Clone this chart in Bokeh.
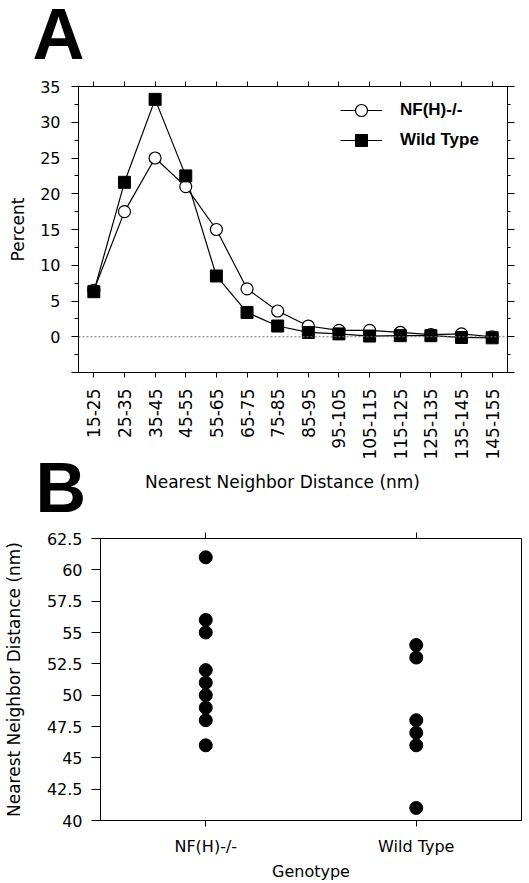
import math
from bokeh.plotting import figure
from bokeh.models import (FactorRange, Range1d, FixedTicker, LinearAxis, CategoricalAxis,
                          Span, Legend, LegendItem, CustomJSTickFormatter)
from bokeh.core.properties import value
from bokeh.embed import file_html
from bokeh.resources import INLINE

# ---------------- data ----------------
bins = ["15-25", "25-35", "35-45", "45-55", "55-65", "65-75", "75-85", "85-95",
        "95-105", "105-115", "115-125", "125-135", "135-145", "145-155"]
nfh_pct = [6.5, 17.5, 25.0, 21.0, 15.0, 6.7, 3.6, 1.5, 0.9, 0.9, 0.6, 0.3, 0.4, 0.0]
wt_pct = [6.3, 21.6, 33.2, 22.5, 8.5, 3.4, 1.5, 0.6, 0.4, 0.1, 0.15, 0.15, -0.1, -0.15]
series_names = ["NF(H)-/-", "Wild Type"]

genotypes = ["NF(H)-/-", "Wild Type"]
nfh_dist = [61, 56, 55, 52, 51, 50, 49, 48, 46]
wt_dist = [54, 53, 48, 47, 46, 41]

a_major = [-5, 0, 5, 10, 15, 20, 25, 30, 35]
a_minor = [-2.5, 2.5, 7.5, 12.5, 17.5, 22.5, 27.5, 32.5]
b_ticks = [40, 42.5, 45, 47.5, 50, 52.5, 55, 57.5, 60, 62.5]

panel_letters = ["A", "B"]
a_xlabel = "Nearest Neighbor Distance (nm)"

TICK_FONT = "DejaVu Sans"
LABEL_FONT = "DejaVu Sans"
BOLD_FONT = "Liberation Sans"
W = 529


def style_axis(ax, tick_size="16px"):
    ax.axis_line_color = "black"
    ax.major_tick_line_color = "black"
    ax.minor_tick_line_color = "black"
    ax.major_tick_in = 0
    ax.minor_tick_in = 0
    ax.major_label_text_font = TICK_FONT
    ax.major_label_text_font_size = tick_size
    ax.major_label_text_color = "black"
    ax.axis_label_text_font = LABEL_FONT
    ax.axis_label_text_font_style = "normal"
    ax.axis_label_text_color = "black"


def plain(fig):
    fig.xgrid.grid_line_color = None
    fig.ygrid.grid_line_color = None
    fig.outline_line_color = "black"
    fig.background_fill_color = "white"
    fig.border_fill_color = "white"


def band(height):
    f = figure(width=W, height=height, x_range=Range1d(0, W), y_range=Range1d(0, height),
               x_axis_type=None, y_axis_type=None, output_backend="svg", title=None,
               toolbar_location=None, min_border=0)
    f.outline_line_color = None
    f.background_fill_color = "white"
    f.border_fill_color = "white"
    return f


# ---------------- header with letter A ----------------
hA = band(70)
hA.text(x=[32], y=[36.5], text=[panel_letters[0]], text_font=value(BOLD_FONT),
        text_font_style="bold", text_font_size="72px", text_baseline="middle",
        text_align="left", text_color="black")

# ---------------- panel A ----------------
pA = figure(width=W, height=392, x_range=FactorRange(*bins), y_range=Range1d(-5, 35),
            output_backend="svg", toolbar_location=None, title=None,
            min_border_left=78, min_border_right=22, min_border_top=16, min_border_bottom=89)
plain(pA)

ya = pA.yaxis[0]
ya.ticker = FixedTicker(ticks=a_major, minor_ticks=a_minor)
ya.major_label_overrides = {-5: ""}
style_axis(ya, "16px")
ya.major_tick_out = 7
ya.minor_tick_out = 4
ya.major_label_standoff = 11
ya.axis_label = "Percent"
ya.axis_label_text_font_size = "17px"
ya.axis_label_standoff = 9

ra = LinearAxis(ticker=FixedTicker(ticks=a_major, minor_ticks=a_minor))
style_axis(ra)
ra.major_label_overrides = {t: "" for t in a_major}
ra.major_tick_out = 7
ra.minor_tick_out = 3
ra.major_label_standoff = 0
pA.add_layout(ra, "right")

xa = pA.xaxis[0]
style_axis(xa, "17px")
xa.major_label_orientation = math.pi / 2
xa.major_tick_out = 5
xa.major_label_standoff = 11

ta = CategoricalAxis(formatter=CustomJSTickFormatter(code="return ''"))
style_axis(ta)
ta.major_tick_out = 5
ta.major_label_standoff = 0
pA.add_layout(ta, "above")

pA.add_layout(Span(location=0, dimension="width", line_color="#777777",
                   line_dash="2 2", line_width=1))

l1 = pA.line(bins, nfh_pct, line_color="black", line_width=1.2)
l2 = pA.line(bins, wt_pct, line_color="black", line_width=1.2)
s1 = pA.scatter(bins, nfh_pct, marker="circle", size=12, fill_color="white",
                line_color="black", line_width=1.2)
s2 = pA.scatter(bins, wt_pct, marker="square", size=12, fill_color="black",
                line_color="black")

legend = Legend(items=[LegendItem(label=series_names[0], renderers=[l1, s1]),
                       LegendItem(label=series_names[1], renderers=[l2, s2])],
                location=(262, 217), glyph_width=42, glyph_height=30,
                label_standoff=18, spacing=0, padding=0, margin=0,
                border_line_color=None, background_fill_alpha=0,
                label_text_font=BOLD_FONT, label_text_font_style="bold",
                label_text_font_size="17px", label_text_color="black")
pA.add_layout(legend)

# ---------------- band: letter B + x title of panel A ----------------
mid = band(53)
mid.text(x=[35], y=[28], text=[panel_letters[1]], text_font=value(BOLD_FONT),
         text_font_style="bold", text_font_size="70px", text_baseline="middle",
         text_align="left", text_color="black")
mid.text(x=[282], y=[34], text=[a_xlabel], text_font=value(LABEL_FONT),
         text_font_size="17px", text_baseline="middle", text_align="center",
         text_color="black")

# ---------------- panel B ----------------
pB = figure(width=W, height=368, x_range=FactorRange(*genotypes), y_range=Range1d(40, 62.5),
            output_backend="svg", toolbar_location=None, title=None,
            min_border_left=96, min_border_right=8, min_border_top=23, min_border_bottom=58)
plain(pB)

yb = pB.yaxis[0]
yb.ticker = FixedTicker(ticks=b_ticks, minor_ticks=[])
yb.formatter = CustomJSTickFormatter(code="return String(tick)")
style_axis(yb, "16px")
yb.major_tick_out = 9
yb.minor_tick_out = 0
yb.major_label_standoff = 9
yb.axis_label = "Nearest Neighbor Distance (nm)"
yb.axis_label_text_font_size = "17px"
yb.axis_label_standoff = 20

xb = pB.xaxis[0]
style_axis(xb, "16px")
xb.major_tick_out = 6
xb.major_label_standoff = 10
xb.axis_label = "Genotype"
xb.axis_label_text_font_size = "16px"
xb.axis_label_standoff = 3

tb = CategoricalAxis(formatter=CustomJSTickFormatter(code="return ''"))
style_axis(tb)
tb.major_tick_out = 6
tb.major_label_standoff = 0
pB.add_layout(tb, "above")

pB.scatter([genotypes[0]] * len(nfh_dist), nfh_dist, size=13, color="black")
pB.scatter([genotypes[1]] * len(wt_dist), wt_dist, size=13, color="black")

# separate roots stacked in the page (keeps each panel's own frame position)
open("out.html", "w").write(file_html([hA, pA, mid, pB], INLINE))
